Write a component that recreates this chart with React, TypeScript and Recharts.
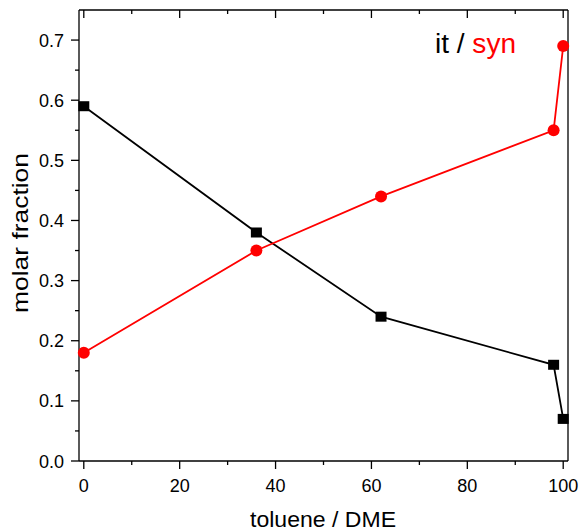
import React from "react";
import { LineChart, Line, XAxis, YAxis } from "recharts";

const xValues = [0, 36, 62, 98, 100];
const itValues = [0.59, 0.38, 0.24, 0.16, 0.07];
const synValues = [0.18, 0.35, 0.44, 0.55, 0.69];
const xTicks = [0, 10, 20, 30, 40, 50, 60, 70, 80, 90, 100];
const yTicks = [0, 0.05, 0.1, 0.15, 0.2, 0.25, 0.3, 0.35, 0.4, 0.45, 0.5, 0.55, 0.6, 0.65, 0.7];

const data = xValues.map((x, i) => ({ x, it: itValues[i], syn: synValues[i] }));

const FONT = "Arial, 'Liberation Sans', sans-serif";
const W = 582;
const H = 531;

const isMajorX = (v: number) => v % 20 === 0;
const isMajorY = (v: number) => Math.round(v * 100) % 10 === 0;

const BottomTick = ({ x, y, payload }: any) => {
  const major = isMajorX(payload.value);
  return (
    <g>
      <line x1={x} x2={x} y1={y} y2={y + (major ? 8 : 4)} stroke="#000" strokeWidth={1.3} />
      {major && (
        <text x={x} y={y + 31} textAnchor="middle" fontSize={18} fontFamily={FONT} fill="#000">
          {payload.value}
        </text>
      )}
    </g>
  );
};

const TopTick = ({ x, y, payload }: any) => {
  const major = isMajorX(payload.value);
  return <line x1={x} x2={x} y1={y} y2={y + (major ? 8 : 4)} stroke="#000" strokeWidth={1.3} />;
};

const LeftTick = ({ x, y, payload }: any) => {
  const major = isMajorY(payload.value);
  return (
    <g>
      <line x1={x} x2={x - (major ? 8 : 4)} y1={y} y2={y} stroke="#000" strokeWidth={1.3} />
      {major && (
        <text x={x - 15} y={y + 6.5} textAnchor="end" fontSize={18} fontFamily={FONT} fill="#000">
          {payload.value.toFixed(1)}
        </text>
      )}
    </g>
  );
};

const RightTick = ({ x, y, payload }: any) => {
  const major = isMajorY(payload.value);
  return <line x1={x} x2={x - (major ? 8 : 4)} y1={y} y2={y} stroke="#000" strokeWidth={1.3} />;
};

const SquareDot = (props: any) => {
  const { cx, cy, index } = props;
  return <rect key={`sq-${index}`} x={cx - 5.5} y={cy - 5} width={11} height={10} fill="#000" />;
};

const CircleDot = (props: any) => {
  const { cx, cy, index } = props;
  return <circle key={`ci-${index}`} cx={cx} cy={cy} r={6} fill="#ff0000" />;
};

export default function App() {
  const axisLine = { stroke: "#000", strokeWidth: 1.3 };
  return (
    <div style={{ position: "relative", width: W, height: H }}>
      <style>{"body{margin:0}"}</style>
      <LineChart width={W} height={H} data={data} margin={{ top: 0, right: 0, bottom: 0, left: 0 }}>
        <XAxis
          dataKey="x"
          type="number"
          domain={[-1, 101]}
          ticks={xTicks}
          interval={0}
          height={70}
          tickSize={0}
          tickMargin={0}
          axisLine={axisLine}
          tick={<BottomTick />}
        />
        <XAxis
          xAxisId="top"
          orientation="top"
          dataKey="x"
          type="number"
          domain={[-1, 101]}
          ticks={xTicks}
          interval={0}
          height={10}
          tickSize={0}
          tickMargin={0}
          axisLine={axisLine}
          tick={<TopTick />}
        />
        <YAxis
          type="number"
          domain={[0, 0.75]}
          ticks={yTicks}
          interval={0}
          width={79}
          tickSize={0}
          tickMargin={0}
          axisLine={axisLine}
          tick={<LeftTick />}
        />
        <YAxis
          yAxisId="right"
          orientation="right"
          type="number"
          domain={[0, 0.75]}
          ticks={yTicks}
          interval={0}
          width={14}
          tickSize={0}
          tickMargin={0}
          axisLine={axisLine}
          tick={<RightTick />}
        />
        <Line
          dataKey="it"
          stroke="#000"
          strokeWidth={1.8}
          dot={SquareDot}
          isAnimationActive={false}
        />
        <Line
          dataKey="syn"
          stroke="#ff0000"
          strokeWidth={1.8}
          dot={CircleDot}
          isAnimationActive={false}
        />
      </LineChart>
      <svg
        width={W}
        height={H}
        style={{ position: "absolute", left: 0, top: 0, pointerEvents: "none" }}
      >
        <text x={435} y={53} fontSize={27} fontFamily={FONT} textLength={81} lengthAdjust="spacingAndGlyphs">
          <tspan fill="#000">it / </tspan>
          <tspan fill="#ff0000">syn</tspan>
        </text>
        <text
          x={323}
          y={527}
          textAnchor="middle"
          fontSize={22}
          fontFamily={FONT}
          textLength={146}
          lengthAdjust="spacingAndGlyphs"
          fill="#000"
        >
          toluene / DME
        </text>
        <text
          x={28}
          y={233}
          textAnchor="middle"
          fontSize={22}
          fontFamily={FONT}
          textLength={160}
          lengthAdjust="spacingAndGlyphs"
          transform="rotate(-90, 28, 233)"
          fill="#000"
        >
          molar fraction
        </text>
      </svg>
    </div>
  );
}
